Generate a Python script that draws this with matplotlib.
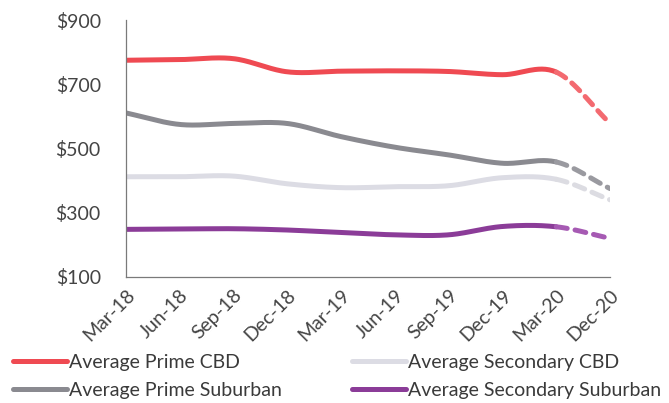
import numpy as np
import matplotlib
matplotlib.use("Agg")
from matplotlib import pyplot as plt
from matplotlib.lines import Line2D

plt.rcParams['font.family'] = ['Lato', 'DejaVu Sans']

quarters = ['Mar-18', 'Jun-18', 'Sep-18', 'Dec-18', 'Mar-19', 'Jun-19',
            'Sep-19', 'Dec-19', 'Mar-20', 'Dec-20']
prime_cbd = [775, 777, 780, 739, 741, 742, 740, 730, 738, 578]
prime_suburban = [611, 575, 578, 578, 537, 504, 480, 454, 458, 375]
secondary_cbd = [412, 412, 414, 390, 378, 381, 384, 409, 404, 340]
secondary_suburban = [248, 249, 250, 246, 238, 231, 231, 257, 256, 220]
y_ticks = [100, 300, 500, 700, 900]

series = [
    ('Average Prime CBD', prime_cbd, '#EF4A52', '#F36A70'),
    ('Average Prime Suburban', prime_suburban, '#8A8A90', '#9A9AA0'),
    ('Average Secondary CBD', secondary_cbd, '#DCDCE4', '#DCDCE2'),
    ('Average Secondary Suburban', secondary_suburban, '#8B3C98', '#A65AB3'),
]


def smooth(y, n=30):
    # catmull-rom through the points, like excel's smoothed line
    y = np.asarray(y, dtype=float)
    p = np.concatenate([[2 * y[0] - y[1]], y, [2 * y[-1] - y[-2]]])
    xs, ys = [], []
    for i in range(len(y) - 1):
        t = np.linspace(0, 1, n, endpoint=False)
        p0, p1, p2, p3 = p[i], p[i + 1], p[i + 2], p[i + 3]
        m1 = (p2 - p0) / 2
        m2 = (p3 - p1) / 2
        h = (2 * t**3 - 3 * t**2 + 1) * p1 + (t**3 - 2 * t**2 + t) * m1 \
            + (-2 * t**3 + 3 * t**2) * p2 + (t**3 - t**2) * m2
        xs.append(i + t)
        ys.append(h)
    xs.append([len(y) - 1])
    ys.append([y[-1]])
    return np.concatenate(xs), np.concatenate(ys)


fig = plt.figure(figsize=(6.69, 4.03), dpi=100)
ax = fig.add_axes([0.188, 0.313, 0.724, 0.637])

handles = []
for name, vals, col, dcol in series:
    xs, ys = smooth(vals)
    solid = xs <= 8
    ax.plot(xs[solid], ys[solid], color=col, lw=3.6, solid_capstyle='round')
    dashed = xs >= 8
    ax.plot(xs[dashed], ys[dashed], color=dcol, lw=3.6, ls=(0, (2.2, 1.6)),
            dash_capstyle='round')
    handles.append(Line2D([], [], color=col, lw=3.6, solid_capstyle='round', label=name))

ax.set_xlim(0, len(quarters) - 1)
ax.set_ylim(100, 900)
ax.set_yticks(y_ticks)
ax.set_yticklabels(['$' + str(v) for v in y_ticks])
ax.set_xticks(range(len(quarters)))
ax.set_xticklabels(quarters, rotation=45, ha='right', rotation_mode='anchor')
ax.tick_params(length=0, labelsize=14, colors='#444444', pad=7)
ax.tick_params(axis='y', pad=18)
for s in ['top', 'right']:
    ax.spines[s].set_visible(False)
for s in ['left', 'bottom']:
    ax.spines[s].set_color('#7a7a7a')
    ax.spines[s].set_linewidth(0.9)

fig.legend(handles=handles, loc='upper left', bbox_to_anchor=(0.02, 0.122),
           ncol=2, frameon=False, fontsize=14, handlelength=2.75,
           handletextpad=0.12, columnspacing=3.6, labelspacing=0.55,
           borderpad=0, borderaxespad=0, labelcolor='#3a3a3a')

fig.savefig('out.png', dpi=100)
